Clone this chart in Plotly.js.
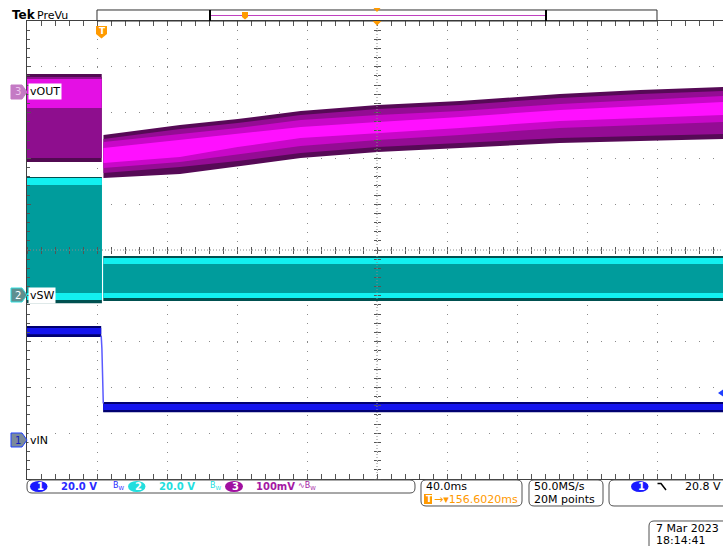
<!DOCTYPE html>
<html><head><meta charset="utf-8">
<script src="https://cdn.plot.ly/plotly-3.0.1.min.js"></script>
<style>html,body{margin:0;padding:0;background:#fff;overflow:hidden}</style>
</head><body><div id="chart" style="width:723px;height:546px"></div>
<script>
// ================= DATA =================
// Horizontal: 40 ms/div, trigger offset to centre 156.602 ms
const timePerDiv = 40;
const timeCenter = 156.602;
// channel order: vIN (ch1), vSW (ch2), vOUT (ch3)
const chNames = ['vIN', 'vSW', 'vOUT'];
const chScale = [20, 20, 100];          // V/div, V/div, mV/div
const chOffsetDiv = [-4.15, -0.98, 3.45];

// vIN (V) : [high, low] envelope levels
const vinPreTime = [-43.4, -1.0];
const vinPreEdge = [49.8, 45.0];
const vinPreCore = [48.9, 46.2];
const vinPostTime = [0.1, 354.4];
const vinPostEdge = [16.6, 12.2];
const vinPostCore = [15.7, 13.1];
const vinStepTime = [-1.0, -0.6, 0.2];
const vinStepVolt = [45.6, 40.0, 16.0];

// vSW (V)
const vswPreTime = [-43.4, -0.6];
const vswPreEdge = [51.5, -3.6];
const vswPreBright = [51.0, -2.2];
const vswPreFill = [48.0, 0.8];
const vswPostTime = [0.2, 354.4];
const vswPostEdge = [17.0, -2.7];
const vswPostBright = [16.1, -1.4];
const vswPostFill = [13.5, 0.8];

// vOUT (mV)
const voutPreTime = [-43.4, -0.7];
const voutPreEdge = [39.3, -152.9];
const voutPreMid = [32.8, -144.1];
const voutPreCore = [28.4, -34.9];
const voutPostTime = [0.3, 44, 77, 113, 157, 204, 261, 307, 354.4];
const voutPostEdgeHi = [-93.9, -72.1, -59.0, -41.5, -28.4, -19.7, -4.4, 4.4, 10.9];
const voutPostEdgeLo = [-187.8, -179.1, -161.6, -144.1, -131.0, -122.3, -111.4, -107.0, -102.6];
const voutPostMidHi = [-102.6, -80.8, -67.7, -50.2, -37.1, -28.4, -13.1, -4.4, 2.2];
const voutPostMidLo = [-176.9, -163.8, -150.7, -133.2, -120.1, -111.4, -100.4, -96.1, -91.7];
const voutPostGlowHi = [-109.2, -91.7, -78.6, -61.1, -50.2, -41.5, -26.2, -17.5, -8.7];
const voutPostGlowLo = [-165.9, -152.8, -135.4, -117.9, -104.8, -93.9, -78.6, -72.1, -65.5];
const voutPostCoreHi = [-122.3, -104.8, -91.7, -76.4, -65.5, -54.6, -39.3, -30.6, -21.8];
const voutPostCoreLo = [-155.0, -141.9, -120.1, -100.4, -89.5, -78.6, -63.3, -57.0, -50.2];

// ================= LAYOUT GEOMETRY =================
const ML = 27, MT = 21, PW = 696, PH = 458, PXDIV = 70;
const PX = p => (p - ML) / PW;
const PY = p => (MT + PH - p) / PH;
const xMin = timeCenter - 5 * timePerDiv;
const xMax = timeCenter + (PW / PXDIV - 5) * timePerDiv;
const FONT = 'DejaVu Sans';

function toDiv(v, ch) { return v / chScale[ch] + chOffsetDiv[ch]; }
function band(t, hi, lo, ch, color) {
  const x = t.concat(t.slice().reverse());
  const y = hi.concat(lo.slice().reverse()).map(v => toDiv(v, ch));
  return {type: 'scatter', mode: 'lines', x, y, fill: 'toself', fillcolor: color,
          line: {width: 0, color}, hoverinfo: 'skip', showlegend: false};
}
function flat(t, pair, ch, color) {
  return band(t, [pair[0], pair[0]], [pair[1], pair[1]], ch, color);
}

const traces = [
  // vOUT
  flat(voutPreTime, voutPreEdge, 2, '#520a52'),
  flat(voutPreTime, voutPreMid, 2, '#8e0e8e'),
  flat(voutPreTime, voutPreCore, 2, '#e410e4'),
  band(voutPostTime, voutPostEdgeHi, voutPostEdgeLo, 2, '#560a56'),
  band(voutPostTime, voutPostMidHi, voutPostMidLo, 2, '#940c94'),
  band(voutPostTime, voutPostGlowHi, voutPostGlowLo, 2, '#c808c8'),
  band(voutPostTime, voutPostCoreHi, voutPostCoreLo, 2, '#ff10ff'),
  // vSW
  flat(vswPreTime, vswPreEdge, 1, '#005050'),
  flat(vswPreTime, vswPreBright, 1, '#12f0f0'),
  flat(vswPreTime, vswPreFill, 1, '#009c9c'),
  flat(vswPostTime, vswPostEdge, 1, '#005050'),
  flat(vswPostTime, vswPostBright, 1, '#12f0f0'),
  flat(vswPostTime, vswPostFill, 1, '#009c9c'),
  // vIN
  flat(vinPreTime, vinPreEdge, 0, '#000070'),
  flat(vinPreTime, vinPreCore, 0, '#1414ee'),
  flat(vinPostTime, vinPostEdge, 0, '#000070'),
  flat(vinPostTime, vinPostCore, 0, '#1414ee'),
  {type: 'scatter', mode: 'lines', x: vinStepTime, y: vinStepVolt.map(v => toDiv(v, 0)),
   line: {color: '#5a5aff', width: 1.5}, hoverinfo: 'skip', showlegend: false},
  // dummies for crosshair tick axes
  {type: 'scatter', mode: 'lines', x: [], y: [], xaxis: 'x2', yaxis: 'y', showlegend: false},
  {type: 'scatter', mode: 'lines', x: [], y: [], xaxis: 'x3', yaxis: 'y', showlegend: false},
  {type: 'scatter', mode: 'lines', x: [], y: [], xaxis: 'x', yaxis: 'y2', showlegend: false},
  {type: 'scatter', mode: 'lines', x: [], y: [], xaxis: 'x', yaxis: 'y3', showlegend: false}
];

// ================= DECORATION =================
const shapes = [];
const annotations = [];
function poly(pts, fill, lineColor, lw) {
  const d = pts.map((p, i) => (i ? 'L' : 'M') + PX(p[0]).toFixed(5) + ',' + PY(p[1]).toFixed(5)).join(' ') + ' Z';
  shapes.push({type: 'path', xref: 'paper', yref: 'paper', path: d, fillcolor: fill || 'rgba(0,0,0,0)',
               line: {color: lineColor || 'rgba(0,0,0,0)', width: lw === undefined ? 1 : lw}, layer: 'above'});
}
function seg(pts, color, w) {
  const d = pts.map((p, i) => (i ? 'L' : 'M') + PX(p[0]).toFixed(5) + ',' + PY(p[1]).toFixed(5)).join(' ');
  shapes.push({type: 'path', xref: 'paper', yref: 'paper', path: d, line: {color, width: w || 1}, layer: 'above'});
}
function rrect(x0, y0, x1, y1, r, color, fill) {
  const P = (x, y) => PX(x).toFixed(5) + ',' + PY(y).toFixed(5);
  const d = 'M' + P(x0 + r, y0) + ' L' + P(x1 - r, y0) + ' Q' + P(x1, y0) + ' ' + P(x1, y0 + r) +
            ' L' + P(x1, y1 - r) + ' Q' + P(x1, y1) + ' ' + P(x1 - r, y1) +
            ' L' + P(x0 + r, y1) + ' Q' + P(x0, y1) + ' ' + P(x0, y1 - r) +
            ' L' + P(x0, y0 + r) + ' Q' + P(x0, y0) + ' ' + P(x0 + r, y0) + ' Z';
  shapes.push({type: 'path', xref: 'paper', yref: 'paper', path: d, fillcolor: fill || 'rgba(0,0,0,0)',
               line: {color, width: 1}, layer: 'above'});
}
function ellipse(x0, y0, x1, y1, fill) {
  shapes.push({type: 'circle', xref: 'paper', yref: 'paper', x0: PX(x0), x1: PX(x1), y0: PY(y1), y1: PY(y0),
               fillcolor: fill, line: {width: 0}, layer: 'above'});
}
function txt(text, x, y, size, color, extra) {
  annotations.push(Object.assign({text, x: PX(x), y: PY(y), xref: 'paper', yref: 'paper', xanchor: 'left',
    yanchor: 'middle', showarrow: false, borderpad: 0, font: {family: FONT, size, color}}, extra || {}));
}

// centre crosshair dotted lines
shapes.push({type: 'line', xref: 'paper', yref: 'y', x0: 0, x1: 1, y0: 0, y1: 0,
             line: {color: '#8a8a8a', width: 1, dash: '1px,2px'}, layer: 'above'});
shapes.push({type: 'line', xref: 'x', yref: 'paper', x0: timeCenter, x1: timeCenter, y0: 0, y1: 1,
             line: {color: '#8a8a8a', width: 1, dash: '1px,2px'}, layer: 'above'});

// Tek PreVu
txt('<b>Tek</b>', 11, 15, 12, '#000');
txt('PreVu', 36, 15, 11, '#000');
// record view bar
rrect(97, 10, 657, 21, 0, '#303030');
seg([[210, 10], [210, 21]], '#000', 2);
seg([[546, 10], [546, 21]], '#000', 2);
seg([[211, 15.5], [545, 15.5]], '#c040c0', 1.2);
poly([[242, 12], [248, 12], [248, 17], [245, 19.5], [242, 17]], '#ff9a00');
poly([[373.5, 8], [380.5, 8], [377, 12]], '#ff9a00');
poly([[372.5, 21], [381.5, 21], [377, 25.5]], '#ff9a00');
// trigger T badge
poly([[96, 26], [107, 26], [107, 34], [101.5, 38.5], [96, 34]], '#ff9a00');
txt('<b>T</b>', 98.2, 31, 9, '#fff');

// channel markers & labels
function chMarker(y, fill, border, num, numColor, label) {
  poly([[11, y - 7], [22, y - 7], [27, y], [22, y + 7], [11, y + 7]], fill, border, 1);
  txt(num, 13.5, y, 10, numColor);
  txt(label, 28, y, 11, '#000', {bgcolor: '#fff', borderpad: 1});
}
chMarker(92, '#c47ac4', '#c47ac4', '3', '#f0c8f0', 'vOUT');
chMarker(295, '#5f8f8f', '#30e0e0', '2', '#ffffff', 'vSW');
chMarker(440, '#7b8a9a', '#2040ff', '1', '#1020c0', 'vIN');
// trigger level marker on right edge
poly([[718, 393], [723, 389.5], [723, 396.5]], '#2040ff');

// bottom status boxes
rrect(27, 480, 415, 493, 5, '#505050', '#fff');
ellipse(30, 481, 47.5, 492, '#1a1aff'); txt('<b>1</b>', 35.5, 486.5, 10, '#fff');
txt('<b>20.0 V</b>', 60, 486.5, 10, '#2a2aff');
txt('B<sub>W</sub>', 112, 486, 8, '#2a2aff');
ellipse(128, 481, 145.5, 492, '#22dede'); txt('<b>2</b>', 133.5, 486.5, 10, '#fff');
txt('<b>20.0 V</b>', 158, 486.5, 10, '#22dede');
txt('B<sub>W</sub>', 209, 486, 8, '#22dede');
ellipse(225, 481, 243, 492, '#a010a0'); txt('<b>3</b>', 230.5, 486.5, 10, '#fff');
txt('<b>100mV</b>', 255, 486.5, 10, '#a418a4');
txt('∿B<sub>W</sub>', 297, 486, 8, '#a418a4');

rrect(421, 480, 522, 506, 5, '#505050', '#fff');
txt('40.0ms', 425, 486.5, 11, '#000');
poly([[424, 494], [432, 494], [432, 504], [424, 504]], '#ff9a00');
txt('<b>T</b>', 425.2, 499, 9, '#fff');
txt('→▾156.6020ms', 433, 499, 11, '#ff9a00');

rrect(529, 480, 603, 506, 5, '#505050', '#fff');
txt('50.0MS/s', 533, 486.5, 11, '#000');
txt('20M points', 533, 499, 11, '#000');

rrect(609, 480, 735, 506, 5, '#505050', '#fff');
ellipse(631, 481, 648.5, 492, '#1a1aff'); txt('<b>1</b>', 636.5, 486.5, 10, '#fff');
seg([[657.5, 483.5], [661, 483.5], [666, 490]], '#000', 1.5);
txt('20.8 V', 684, 486.5, 11, '#000');

rrect(649, 521, 740, 552, 5, '#505050', '#fff');
txt('7 Mar 2023', 655, 528, 11, '#000');
txt('18:14:41', 655, 540, 11, '#000');

// ================= AXES =================
const axisCommon = {showticklabels: false, zeroline: false, fixedrange: true};
const layout = {
  width: 723, height: 546,
  margin: {l: ML, r: 0, t: MT, b: 546 - MT - PH, pad: 0},
  paper_bgcolor: '#fff', plot_bgcolor: '#fff',
  showlegend: false,
  xaxis: Object.assign({}, axisCommon, {
    range: [xMin, xMax], tick0: timeCenter, dtick: timePerDiv,
    showgrid: true, gridcolor: '#8a8a8a', gridwidth: 1, griddash: '1px,8.16px',
    ticks: 'inside', ticklen: 5, tickcolor: '#555', tickwidth: 1,
    minor: {dtick: timePerDiv / 5, tick0: timeCenter, ticks: 'inside', ticklen: 3, tickcolor: '#555', showgrid: false},
    showline: true, linecolor: '#404040', linewidth: 1, mirror: 'allticks', layer: 'above traces'
  }),
  yaxis: Object.assign({}, axisCommon, {
    range: [-5, 5], tick0: 0, dtick: 1,
    showgrid: true, gridcolor: '#8a8a8a', gridwidth: 1, griddash: '1px,13px',
    ticks: 'inside', ticklen: 4, tickcolor: '#555', tickwidth: 1,
    minor: {dtick: 0.2, ticks: 'inside', ticklen: 3, tickcolor: '#555', showgrid: false},
    showline: true, linecolor: '#404040', linewidth: 1, mirror: false, layer: 'above traces'
  }),
  xaxis2: Object.assign({}, axisCommon, {overlaying: 'x', anchor: 'free', position: 0.5, side: 'bottom',
    range: [xMin, xMax], tick0: timeCenter, dtick: timePerDiv, showgrid: false, showline: false,
    ticks: 'outside', ticklen: 3, tickcolor: '#555',
    minor: {dtick: timePerDiv / 5, tick0: timeCenter, ticks: 'outside', ticklen: 3, tickcolor: '#555'}}),
  xaxis3: Object.assign({}, axisCommon, {overlaying: 'x', anchor: 'free', position: 0.5, side: 'top',
    range: [xMin, xMax], tick0: timeCenter, dtick: timePerDiv, showgrid: false, showline: false,
    ticks: 'outside', ticklen: 3, tickcolor: '#555',
    minor: {dtick: timePerDiv / 5, tick0: timeCenter, ticks: 'outside', ticklen: 3, tickcolor: '#555'}}),
  yaxis2: Object.assign({}, axisCommon, {overlaying: 'y', anchor: 'free', position: 5 * PXDIV / PW, side: 'left',
    range: [-5, 5], tick0: 0, dtick: 1, showgrid: false, showline: false,
    ticks: 'outside', ticklen: 3, tickcolor: '#555',
    minor: {dtick: 0.2, ticks: 'outside', ticklen: 3, tickcolor: '#555'}}),
  yaxis3: Object.assign({}, axisCommon, {overlaying: 'y', anchor: 'free', position: 5 * PXDIV / PW, side: 'right',
    range: [-5, 5], tick0: 0, dtick: 1, showgrid: false, showline: false,
    ticks: 'outside', ticklen: 3, tickcolor: '#555',
    minor: {dtick: 0.2, ticks: 'outside', ticklen: 3, tickcolor: '#555'}}),
  shapes, annotations
};

Plotly.newPlot('chart', traces, layout, {staticPlot: true, displayModeBar: false});
</script></body></html>
